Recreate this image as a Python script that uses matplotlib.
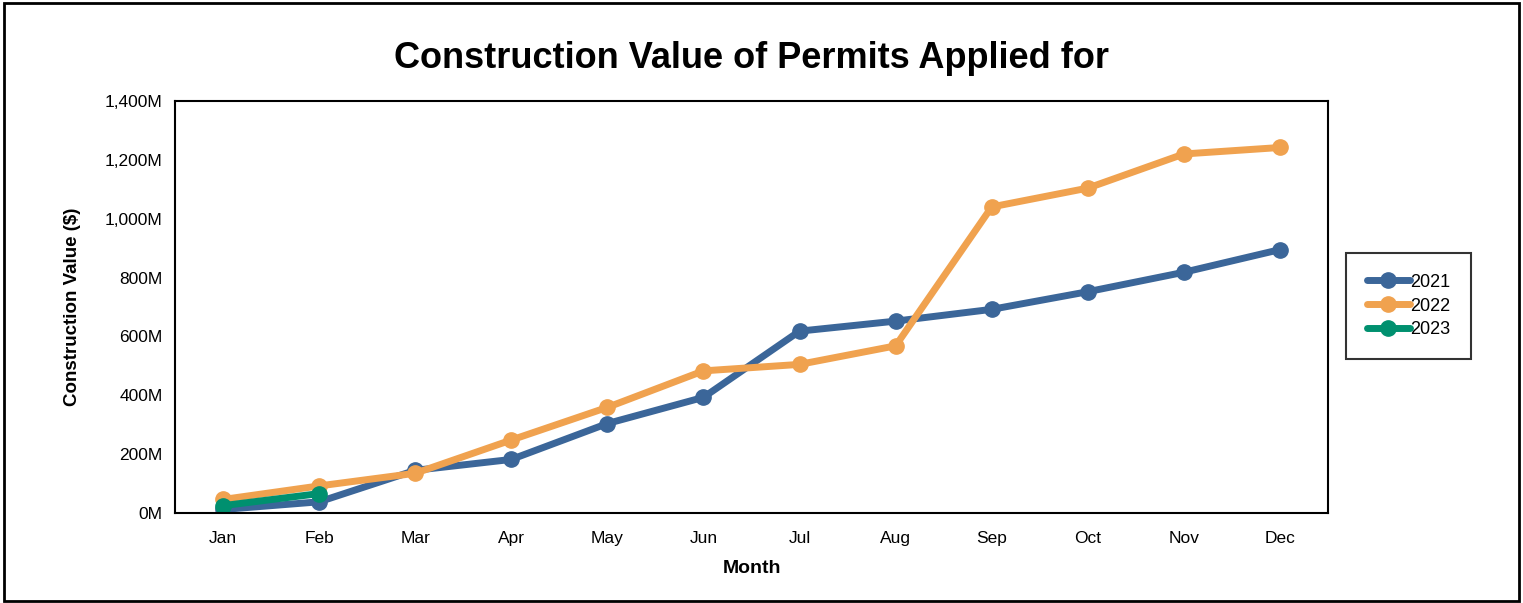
import matplotlib
matplotlib.use("Agg")
import matplotlib.pyplot as plt
from matplotlib.patches import Rectangle
from matplotlib.ticker import FuncFormatter

months = ["Jan", "Feb", "Mar", "Apr", "May", "Jun", "Jul", "Aug", "Sep", "Oct", "Nov", "Dec"]
values_2021 = [12, 38, 145, 182, 304, 393, 618, 652, 692, 752, 818, 895]
values_2022 = [46, 92, 135, 248, 359, 483, 505, 568, 1040, 1104, 1220, 1242]
values_2023 = [25, 66]
series = [("2021", values_2021, "#3B6699"), ("2022", values_2022, "#F0A24F"), ("2023", values_2023, "#00906F")]

plt.rcParams['font.family'] = ['Liberation Sans', 'DejaVu Sans']

fig = plt.figure(figsize=(15.23, 6.03), dpi=100)
ax = fig.add_axes([175/1523, 1 - 513/603, (1328-175)/1523, (513-101)/603])

for name, vals, col in series:
    ax.plot(range(len(vals)), vals, color=col, lw=5, marker='o', ms=11, label=name,
            solid_joinstyle='round', solid_capstyle='round')

ax.set_xlim(-0.5, 11.5)
ax.set_ylim(0, 1400)
ax.set_xticks(range(len(months)))
ax.set_xticklabels(months)
ax.set_yticks(range(0, 1401, 200))
ax.yaxis.set_major_formatter(FuncFormatter(lambda v, p: f"{int(v):,}M"))
ax.tick_params(length=0, labelsize=12.5)
ax.tick_params(axis='y', pad=9)
ax.tick_params(axis='x', pad=13)
for s in ax.spines.values():
    s.set_linewidth(1.5)
    s.set_color('black')

ax.set_xlabel("Month", fontsize=14, fontweight='bold', labelpad=10)
ax.set_ylabel("Construction Value ($)", fontsize=13.5, fontweight='bold', labelpad=17)
fig.text(751.5/1523, 1 - 58/603, "Construction Value of Permits Applied for",
         ha='center', va='center', fontsize=26, fontweight='bold')

leg = fig.legend(loc='upper left', bbox_to_anchor=(1346/1523, 1 - 253/603), fontsize=13,
                 frameon=True, fancybox=False, edgecolor='black', handlelength=2.4,
                 handletextpad=0.0, borderpad=1.15, labelspacing=0.38, borderaxespad=0)
leg.get_frame().set_linewidth(1.5)

fig.patches.append(Rectangle((4/1523, 2/603), (1519-4)/1523, (600-2)/603, transform=fig.transFigure,
                             fill=False, edgecolor='black', lw=2))

fig.savefig("out.png", dpi=100)
